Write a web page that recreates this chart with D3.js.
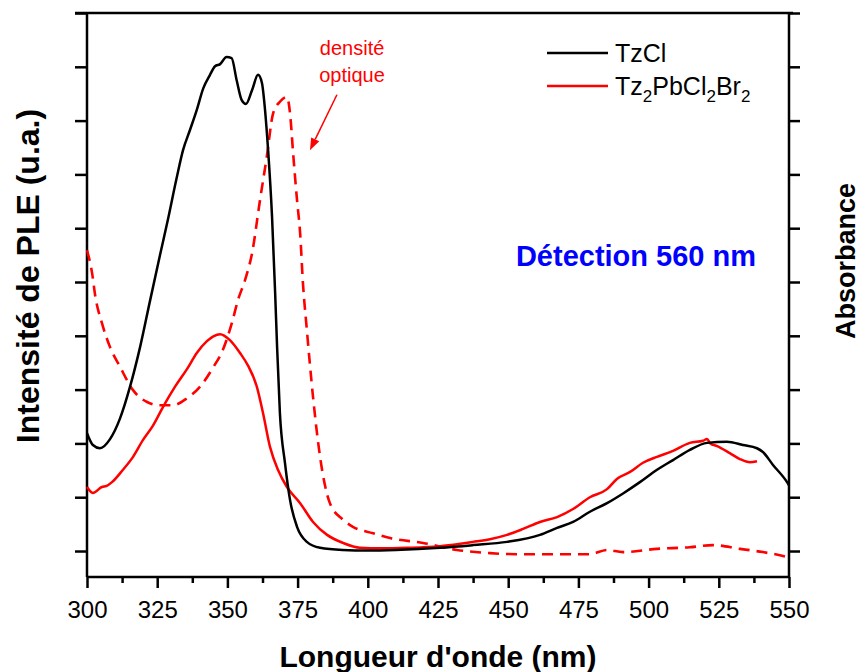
<!DOCTYPE html>
<html><head><meta charset="utf-8">
<script src="https://cdn.jsdelivr.net/npm/d3@7/dist/d3.min.js"></script>
<style>body{margin:0;background:#fff}svg{display:block}</style>
</head><body>
<svg id="c" width="861" height="672"></svg>
<script>
// ---- data ----
const xTickValues = [300, 325, 350, 375, 400, 425, 450, 475, 500, 525, 550];
const xMinorTicks = [312.5, 337.5, 362.5, 387.5, 412.5, 437.5, 462.5, 487.5, 512.5, 537.5];
const yTickValues = [0, 1, 2, 3, 4, 5, 6, 7, 8, 9, 10];

const tzclWl = [300, 302.1, 304.6, 308.2, 311.8, 315.3, 318.9, 322.4, 326, 328.9, 332, 334.2, 336.7, 339.1, 341.4, 343.8, 345.6, 347.4, 349.7, 351.5, 353.3, 355.1, 356.6, 358.8, 360.9, 362.3, 363.4, 364.5, 365.9, 367, 367.7, 368.7, 370.5, 372.3, 374.8, 378.3, 383, 391, 400, 410, 425.7, 437.5, 449.6, 461.3, 467.4, 473.1, 479.1, 485.2, 490.9, 496.9, 503, 508.7, 514.7, 520.8, 527.9, 533.6, 538.6, 540.7, 544.3, 549.3, 550];
const tzclPLE = [2.19, 1.97, 1.91, 2.08, 2.47, 3.05, 3.79, 4.64, 5.50, 6.18, 6.95, 7.45, 7.83, 8.20, 8.60, 8.85, 9.01, 9.05, 9.18, 9.16, 8.75, 8.38, 8.31, 8.57, 8.85, 8.70, 8.20, 7.45, 6.21, 4.80, 3.79, 2.56, 1.64, 0.95, 0.45, 0.17, 0.06, 0.02, 0.01, 0.02, 0.06, 0.11, 0.17, 0.30, 0.43, 0.54, 0.73, 0.89, 1.07, 1.28, 1.51, 1.69, 1.88, 2.01, 2.03, 1.97, 1.91, 1.84, 1.60, 1.28, 1.22];

const tzpbWl = [300, 302.1, 305.3, 307, 308.9, 312.8, 316.4, 319.9, 323.5, 327.1, 331.3, 335.6, 339.1, 342.7, 345, 347.4, 350.9, 354.5, 357.3, 360.5, 362.7, 365.2, 368, 371.2, 375.9, 380.5, 385.5, 391.2, 397.2, 405, 413.9, 425.7, 437.5, 443.5, 449.6, 455.3, 461.3, 467.4, 473.1, 479.1, 485.2, 488.7, 493.4, 498, 503, 508.7, 514.7, 519.4, 520.8, 522, 524.4, 528.9, 532.5, 536.1, 538.6];
const tzpbPLE = [1.19, 1.08, 1.19, 1.21, 1.28, 1.51, 1.75, 2.06, 2.33, 2.68, 3.05, 3.38, 3.68, 3.90, 3.99, 4.03, 3.92, 3.68, 3.45, 3.05, 2.56, 1.93, 1.51, 1.19, 0.89, 0.54, 0.30, 0.15, 0.06, 0.05, 0.06, 0.09, 0.17, 0.22, 0.30, 0.41, 0.54, 0.63, 0.78, 1.00, 1.15, 1.34, 1.47, 1.64, 1.75, 1.86, 2.01, 2.05, 2.08, 2.00, 1.95, 1.82, 1.71, 1.65, 1.67];

const absWl = [300, 301.8, 303, 305.3, 308.2, 311.8, 316.4, 321.4, 326, 330.6, 335.6, 340.2, 345, 348.4, 351.6, 353.8, 356.3, 358.8, 361.6, 364, 366.3, 368.7, 371.2, 372.3, 373.4, 374.8, 375.9, 376.9, 378.3, 380.5, 383, 386.5, 391.2, 394.7, 401.9, 407.9, 419.7, 431.8, 443.5, 455.3, 467.4, 479.1, 485.2, 490.9, 503, 514.7, 522.9, 532.5, 540.7, 549.3, 550];
const absVal = [5.59, 5.17, 4.72, 4.24, 3.79, 3.42, 2.99, 2.77, 2.71, 2.71, 2.84, 3.05, 3.42, 3.74, 4.24, 4.67, 5.04, 5.54, 6.52, 7.32, 8.14, 8.35, 8.44, 8.14, 7.40, 6.52, 5.91, 4.98, 4.11, 2.86, 1.75, 0.89, 0.58, 0.45, 0.33, 0.24, 0.15, 0.02, -0.04, -0.06, -0.06, -0.06, 0.02, -0.02, 0.04, 0.07, 0.11, 0.04, -0.02, -0.11, -0.12];

const seriesNames = ["TzCl", "Tz2PbCl2Br2"];
const seriesColors = ["#000000", "#ff0000"];

// ---- chart ----
const svg = d3.select("#c");
svg.append("rect").attr("width", 861).attr("height", 672).attr("fill", "#fff");
const FONT = "'Liberation Sans', Arial, Helvetica, sans-serif";
const L = 87, R = 789, T = 13, B = 577;

const x = d3.scaleLinear().domain([300, 550]).range([L, R]);
const yL = d3.scaleLinear().domain([-0.483, 10]).range([B, T]);
const yR = d3.scaleLinear().domain([-0.483, 10]).range([B, T]);

const axW = 2.5;

// top frame line
svg.append("line").attr("x1", L - 12).attr("x2", R + 4).attr("y1", T).attr("y2", T)
  .attr("stroke", "#000").attr("stroke-width", axW);

// bottom axis
const gx = svg.append("g").attr("transform", `translate(0,${B})`)
  .call(d3.axisBottom(x).tickValues(xTickValues).tickSize(11).tickSizeOuter(0).tickPadding(13));
gx.selectAll("text").attr("font-family", FONT).attr("font-size", 24).attr("fill", "#000");
const gxm = svg.append("g").attr("transform", `translate(0,${B})`)
  .call(d3.axisBottom(x).tickValues(xMinorTicks).tickSize(6).tickSizeOuter(0).tickFormat(""));
gxm.select(".domain").remove();

// left axis
const gy = svg.append("g").attr("transform", `translate(${L},0)`)
  .call(d3.axisLeft(yL).tickValues(yTickValues).tickSize(12).tickSizeOuter(0).tickFormat(""));
// right axis
const gr = svg.append("g").attr("transform", `translate(${R},0)`)
  .call(d3.axisRight(yR).tickValues(yTickValues).tickSize(11).tickSizeOuter(0).tickFormat(""));

[gx, gxm, gy, gr].forEach(g => {
  g.selectAll("line").attr("stroke", "#000").attr("stroke-width", axW);
  g.select(".domain").attr("stroke", "#000").attr("stroke-width", axW);
});
gy.select(".domain").attr("d", `M0,${T}V${B}`);
gr.select(".domain").attr("d", `M0,${T}V${B}`);
gx.select(".domain").attr("d", `M${L},0H${R}`);

// curves
const line = ys => d3.line().x(d => x(d[0])).y(d => ys(d[1])).curve(d3.curveMonotoneX);
const plot = svg.append("g");
plot.append("path").datum(d3.zip(absWl, absVal)).attr("d", line(yR))
  .attr("fill", "none").attr("stroke", "#ff0000").attr("stroke-width", 2.6)
  .attr("stroke-dasharray", "11,7");
plot.append("path").datum(d3.zip(tzpbWl, tzpbPLE)).attr("d", line(yL))
  .attr("fill", "none").attr("stroke", seriesColors[1]).attr("stroke-width", 2.5).attr("stroke-linejoin", "round");
plot.append("path").datum(d3.zip(tzclWl, tzclPLE)).attr("d", line(yL))
  .attr("fill", "none").attr("stroke", seriesColors[0]).attr("stroke-width", 2.5).attr("stroke-linejoin", "round");

// axis titles
svg.append("text").attr("x", 438).attr("y", 667).attr("text-anchor", "middle")
  .attr("font-family", FONT).attr("font-weight", "bold").attr("font-size", 30)
  .text("Longueur d'onde (nm)");
svg.append("text").attr("transform", "translate(39,276) rotate(-90)").attr("text-anchor", "middle")
  .attr("font-family", FONT).attr("font-weight", "bold").attr("font-size", 32)
  .text("Intensité de PLE (u.a.)");
svg.append("text").attr("transform", "translate(855,261) rotate(-90)").attr("text-anchor", "middle")
  .attr("font-family", FONT).attr("font-weight", "bold").attr("font-size", 27)
  .text("Absorbance");

// annotation: Détection
svg.append("text").attr("x", 636).attr("y", 266).attr("text-anchor", "middle")
  .attr("font-family", FONT).attr("font-weight", "bold").attr("font-size", 29).attr("fill", "#0000ff")
  .text("Détection 560 nm");

// annotation: densité optique + arrow
svg.append("text").attr("x", x(394.4)).attr("y", yL(9.22)).attr("text-anchor", "middle")
  .attr("font-family", FONT).attr("font-size", 20).attr("fill", "#ff0000").text("densité");
svg.append("text").attr("x", x(394.4)).attr("y", yL(8.72)).attr("text-anchor", "middle")
  .attr("font-family", FONT).attr("font-size", 20).attr("fill", "#ff0000").text("optique");
const ax1 = x(389), ay1 = yL(8.48), ax2 = x(379.4), ay2 = yL(7.45);
const ang = Math.atan2(ay2 - ay1, ax2 - ax1);
const hl = 12, hw = 4.5;
const bx = ax2 - hl * Math.cos(ang), by = ay2 - hl * Math.sin(ang);
svg.append("line").attr("x1", ax1).attr("y1", ay1).attr("x2", bx).attr("y2", by)
  .attr("stroke", "#ff0000").attr("stroke-width", 1.5);
svg.append("path").attr("d", `M${ax2},${ay2}L${bx + hw * Math.sin(ang)},${by - hw * Math.cos(ang)}L${bx - hw * Math.sin(ang)},${by + hw * Math.cos(ang)}Z`)
  .attr("fill", "#ff0000");

// legend
const leg = svg.append("g");
[0, 1].forEach(i => {
  const ly = 53 + i * 33;
  leg.append("line").attr("x1", 547).attr("x2", 608).attr("y1", ly).attr("y2", ly)
    .attr("stroke", seriesColors[i]).attr("stroke-width", 2.5);
});
leg.append("text").attr("x", 615).attr("y", 62).attr("font-family", FONT).attr("font-size", 25).text(seriesNames[0]);
const t2 = leg.append("text").attr("x", 615).attr("y", 95).attr("font-family", FONT).attr("font-size", 25);
[["Tz", 0], ["2", 1], ["PbCl", 0], ["2", 1], ["Br", 0], ["2", 1]].forEach(([s, sub]) => {
  t2.append("tspan").text(s).attr("font-size", sub ? 17 : 25).attr("dy", sub ? 7 : null)
    .call(ts => { if (!sub && s !== "Tz") ts.attr("dy", -7); });
});
</script>
</body></html>
